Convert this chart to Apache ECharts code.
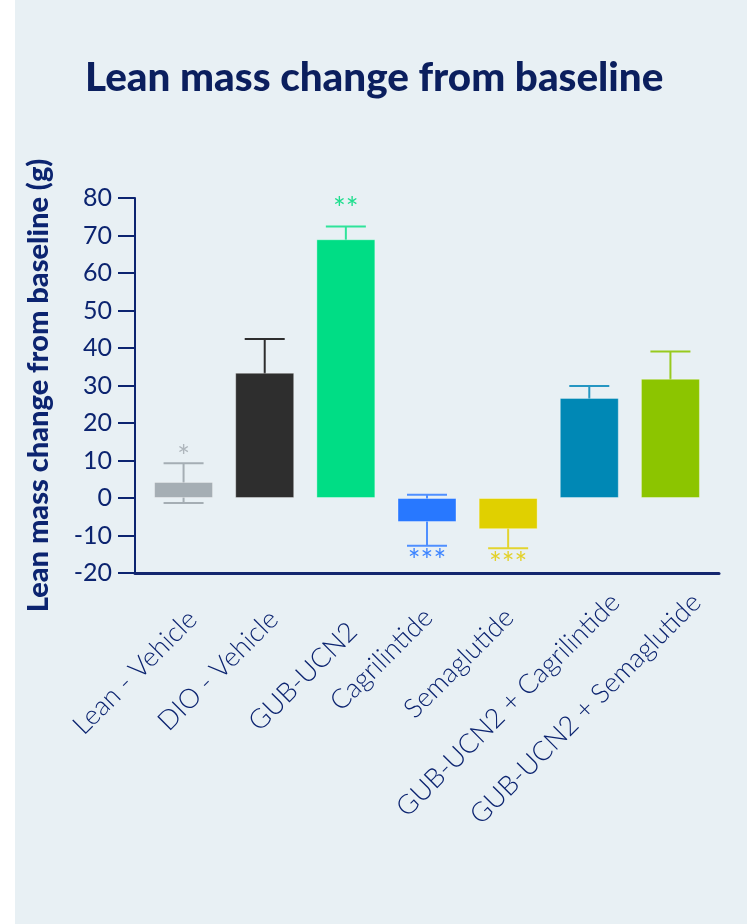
<!DOCTYPE html>
<html>
<head>
<meta charset="utf-8">
<script src="https://cdn.jsdelivr.net/npm/echarts@6/dist/echarts.min.js"></script>
<style>
  html, body { margin: 0; padding: 0; background: #ffffff; }
  #panel { position: absolute; left: 15px; top: 0; width: 732px; height: 924px; background: #e8f0f4; }
  #chart { position: absolute; left: 0; top: 0; width: 747px; height: 924px; }
</style>
</head>
<body>
<div id="panel"></div>
<div id="chart"></div>
<script>
// ---- data ----
const categories = ['Lean - Vehicle', 'DIO - Vehicle', 'GUB-UCN2', 'Cagrilintide', 'Semaglutide', 'GUB-UCN2 + Cagrilintide', 'GUB-UCN2 + Semaglutide'];
const meanValues = [4.3, 33.4, 69.0, -6.4, -8.3, 26.7, 31.8];
const errorHigh  = [9.3, 42.4, 72.4, 0.9, -3.2, 29.9, 39.1];
const errorLow   = [-1.3, 24.4, 65.6, -12.7, -13.4, 23.5, 24.5];
const significance = ['*', '', '**', '***', '***', '', ''];
const yTicks = { min: -20, max: 80, interval: 10 };

// ---- styles ----
const barColors   = ['#a5aeb4', '#2e2e2e', '#00dd85', '#2878ff', '#e0d000', '#0088b5', '#8cc500'];
const errColors   = ['#a5aeb4', '#2e2e2e', '#2fe39a', '#4f8fff', '#e3d42e', '#2596c2', '#98ca1e'];
const starColors  = ['#aeb6bc', '#2e2e2e', '#1ede8e', '#3c84ff', '#e3d12a', '#0088b5', '#8cc500'];
const starOffset  = [-6, 0, -17, 1, 1, 0, 0];
const labelPad    = [[0, 24, 0, 0], [0, 24, 0, 0], [14, 34, 0, 0], [0, 28, 14, 0], [0, 28, 14, 0], [0, 0, 0, 0], [0, 0, 0, 0]];
const navy = '#0c2470';
const font = 'Lato, "Open Sans", sans-serif';

const rich = {};
labelPad.forEach((p, i) => { rich['p' + i] = { padding: p, fontSize: 27, fontWeight: 300, color: navy, fontFamily: font }; });

const chart = echarts.init(document.getElementById('chart'), null, { renderer: 'canvas' });
chart.setOption({
  backgroundColor: 'transparent',
  animation: false,
  title: {
    text: 'Lean mass change from baseline',
    left: 80, top: 53,
    textStyle: { color: '#0b1f5e', fontFamily: font, fontWeight: 900, fontSize: 40.4 }
  },
  grid: [
    { left: 135, top: 198, width: 584, height: 375 },
    { left: 143, top: 198, width: 568, height: 375 },
    { left: 169, top: 198, width: 568, height: 375 }
  ],
  xAxis: [
    { gridIndex: 0, type: 'category', data: [''], axisLine: { onZero: false, lineStyle: { color: '#13266e', width: 3 } }, axisTick: { show: false }, axisLabel: { show: false } },
    { gridIndex: 1, type: 'category', data: categories, axisLine: { show: false }, axisTick: { show: false }, axisLabel: { show: false } },
    { gridIndex: 2, type: 'category', data: categories, axisLine: { show: false }, axisTick: { show: false },
      axisLabel: { interval: 0, rotate: 45, margin: 25, rich: rich,
        formatter: (v, i) => '{p' + i + '|' + v + '}' } }
  ],
  yAxis: [
    { gridIndex: 0, type: 'value', min: yTicks.min, max: yTicks.max, interval: yTicks.interval,
      axisLine: { show: true, onZero: false, lineStyle: { color: navy, width: 2 } },
      axisTick: { show: true, length: 17, lineStyle: { color: navy, width: 2 } },
      splitLine: { show: false },
      axisLabel: { color: navy, fontSize: 25, fontFamily: font, margin: 23 },
      name: 'Lean mass change from baseline (g)', nameLocation: 'middle', nameRotate: 90, nameGap: 82,
      nameTextStyle: { color: navy, fontSize: 29, fontWeight: 900, fontFamily: font } },
    { gridIndex: 1, type: 'value', min: yTicks.min, max: yTicks.max, interval: yTicks.interval, show: false },
    { gridIndex: 2, type: 'value', min: yTicks.min, max: yTicks.max, interval: yTicks.interval, show: false }
  ],
  series: [
    {
      type: 'custom', xAxisIndex: 1, yAxisIndex: 1, z: 2,
      data: categories.map((c, i) => [i, errorLow[i], errorHigh[i], meanValues[i]]),
      renderItem: function (params, api) {
        const i = api.value(0);
        const lo = api.coord([i, api.value(1)]);
        const hi = api.coord([i, api.value(2)]);
        const capW = 20;
        const st = { stroke: errColors[i], lineWidth: 2 };
        const children = [
          { type: 'line', shape: { x1: lo[0], y1: lo[1], x2: hi[0], y2: hi[1] }, style: st },
          { type: 'line', shape: { x1: hi[0] - capW, y1: hi[1], x2: hi[0] + capW, y2: hi[1] }, style: st },
          { type: 'line', shape: { x1: lo[0] - capW, y1: lo[1], x2: lo[0] + capW, y2: lo[1] }, style: st }
        ];
        const s = significance[i];
        if (s) {
          const pos = api.value(3) >= 0;
          const anchor = pos ? hi : lo;
          children.push({ type: 'text', x: anchor[0], y: anchor[1] + starOffset[i],
            style: { text: s, fill: starColors[i], fontSize: 30, fontFamily: font, align: 'center', verticalAlign: pos ? 'middle' : 'top' } });
        }
        return { type: 'group', children: children };
      }
    },
    {
      type: 'bar', xAxisIndex: 1, yAxisIndex: 1, z: 3, barWidth: 59,
      data: meanValues.map((v, i) => ({ value: v, itemStyle: { color: barColors[i], borderColor: 'rgba(255,255,255,0.35)', borderWidth: 1 } }))
    }
  ]
});
</script>
</body>
</html>
